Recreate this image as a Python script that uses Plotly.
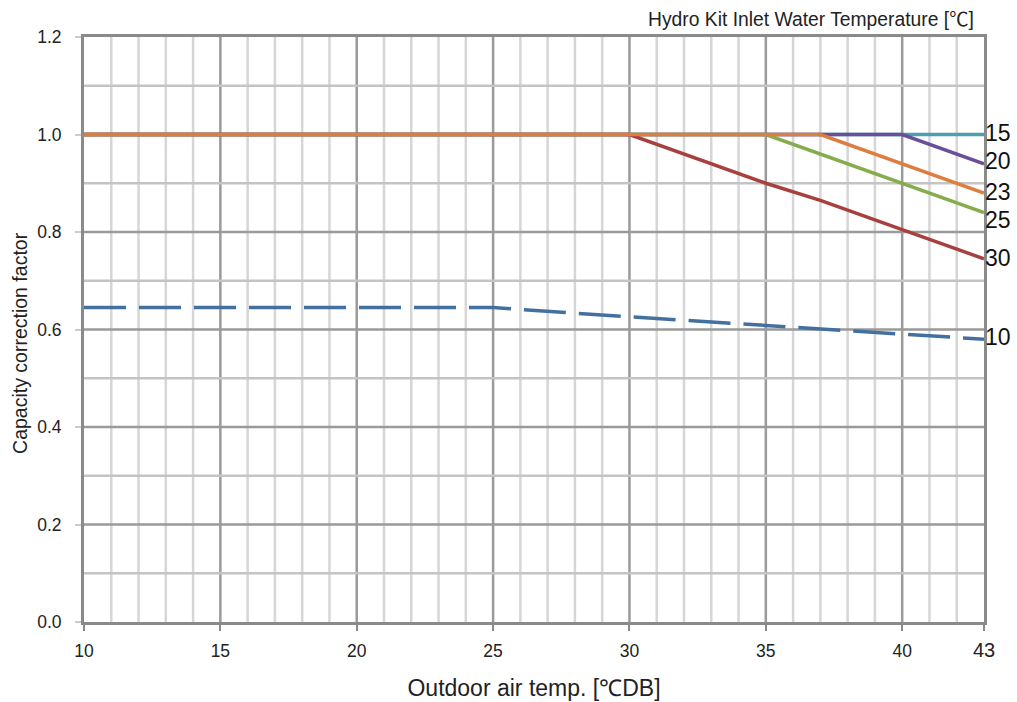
import plotly.graph_objects as go

# Data
x_15 = [10, 43]
y_15 = [1.0, 1.0]
x_20 = [10, 40, 43]
y_20 = [1.0, 1.0, 0.94]
x_23 = [10, 37, 43]
y_23 = [1.0, 1.0, 0.88]
x_25 = [10, 35, 43]
y_25 = [1.0, 1.0, 0.84]
x_30 = [10, 30, 35, 37, 40, 43]
y_30 = [1.0, 1.0, 0.90, 0.865, 0.805, 0.745]
x_10 = [10, 25, 30, 35, 40, 43]
y_10 = [0.645, 0.645, 0.626, 0.608, 0.591, 0.58]

x_ticks = [10, 15, 20, 25, 30, 35, 40, 43]
y_ticks = [0.0, 0.2, 0.4, 0.6, 0.8, 1.0, 1.2]

series = [
    ("15", x_15, y_15, "#4a9fb5", "solid"),
    ("20", x_20, y_20, "#6a4e9a", "solid"),
    ("25", x_25, y_25, "#86ac4c", "solid"),
    ("30", x_30, y_30, "#a84040", "solid"),
    ("23", x_23, y_23, "#dd7d40", "solid"),
    ("10", x_10, y_10, "#4470a0", "42px,13px"),
]

fig = go.Figure()

# gridlines
minor_col = "#d6d6d6"
major_col = "#9a9a9a"
shapes = []
for v in range(11, 43):
    if v % 5 != 0:
        shapes.append(dict(type="line", xref="x", yref="paper", x0=v, x1=v, y0=0, y1=1,
                           line=dict(color=minor_col, width=2.5), layer="below"))
for v in [15, 20, 25, 30, 35, 40]:
    shapes.append(dict(type="line", xref="x", yref="paper", x0=v, x1=v, y0=0, y1=1,
                       line=dict(color=major_col, width=2.5), layer="below"))
for i in range(1, 12):
    v = i / 10
    col = major_col if i % 2 == 0 else "#c4c4c4"
    shapes.append(dict(type="line", xref="paper", yref="y", x0=0, x1=1, y0=v, y1=v,
                       line=dict(color=col, width=2.5), layer="below"))

for name, xs, ys, col, dash in series:
    fig.add_trace(go.Scatter(x=xs, y=ys, mode="lines", name=name,
                             line=dict(color=col, width=3.5, dash=dash), showlegend=False))

label_y = {"15": 1.0, "20": 0.94, "23": 0.88, "25": 0.84, "30": 0.745, "10": 0.58}
label_shift = {"15": 2, "20": 3, "23": 1, "25": -7, "30": 1, "10": 2}
annotations = []
for name, yv in label_y.items():
    annotations.append(dict(x=43, y=yv, xref="x", yref="y", text=name, showarrow=False,
                            xanchor="left", yanchor="middle", xshift=-1, yshift=label_shift[name],
                            font=dict(size=23, color="#111")))
annotations.append(dict(x=1.0, y=1.0, xref="paper", yref="paper",
                        text="Hydro Kit Inlet Water Temperature [<span style=\"font-family:'Noto Sans CJK JP'\">℃</span>]",
                        showarrow=False,
                        xanchor="right", yanchor="bottom", xshift=-8, yshift=3,
                        font=dict(size=19.3, color="#222")))
# y-axis title (placed as annotation to match the reference's offset)
annotations.append(dict(x=0, y=0.477, xref="paper", yref="paper",
                        text="Capacity correction factor", textangle=-90, showarrow=False,
                        xanchor="center", yanchor="middle", xshift=-64,
                        font=dict(size=19.5, color="#222")))

x_ticktext = [str(t) if t != 43 else "<span style='font-size:20px'>43</span>" for t in x_ticks]

fig.update_layout(
    width=1017, height=702,
    margin=dict(l=84, r=33, t=37, b=80),
    paper_bgcolor="white", plot_bgcolor="white",
    font=dict(family="Liberation Sans, Arial, sans-serif", color="#222"),
    shapes=shapes, annotations=annotations,
    xaxis=dict(range=[10, 43], tickvals=x_ticks, ticktext=x_ticktext, automargin=False,
               showgrid=False, zeroline=False, showline=True, linecolor="#8a8a8a", linewidth=3,
               mirror=True, ticks="outside", ticklen=6, tickcolor="#8a8a8a", tickwidth=2,
               ticklabelstandoff=5,
               tickfont=dict(size=17.5), title=dict(text="Outdoor air temp. [℃DB]",
                                                   font=dict(size=23), standoff=20)),
    yaxis=dict(range=[0, 1.2], tickvals=y_ticks, ticktext=[f"{t:.1f}" for t in y_ticks],
               automargin=False,
               showgrid=False, zeroline=False, showline=True, linecolor="#8a8a8a", linewidth=3,
               mirror=True, ticks="outside", ticklen=6, tickcolor="#cccccc", tickwidth=2,
               ticklabelstandoff=10,
               tickfont=dict(size=17.5)),
)

fig.write_html("out.html", config={"displayModeBar": False},
               post_script="document.body.style.margin='0';document.body.style.overflow='hidden';")
